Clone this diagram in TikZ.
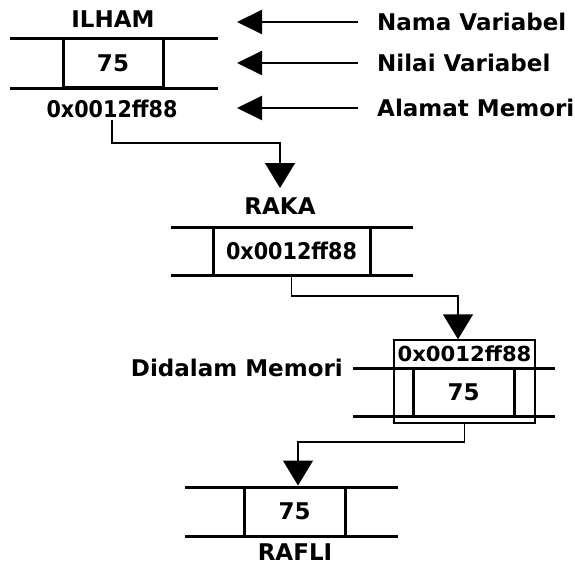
\documentclass[tikz,border=0pt]{standalone}
\usepackage{fontspec}
\setmainfont{DejaVu Sans}
\usetikzlibrary{arrows.meta}
\newcommand{\hexnum}{\scalebox{0.9}[1]{0x0012ff88}}
\begin{document}
\begin{tikzpicture}[x=1pt,y=1pt,
  lbl/.style={font=\fontsize{23}{27}\selectfont\bfseries, inner sep=0pt},
  valbox/.style={draw, line width=3pt, minimum height=49pt, inner sep=0pt, font=\fontsize{23}{27}\selectfont\bfseries},
  rail/.style={line width=3pt},
  conn/.style={line width=1.4pt, -{Triangle[length=25pt,width=30pt]}},
  larrow/.style={line width=2pt, -{Triangle[length=25pt,width=24pt]}},
  memrect/.style={draw, line width=1.4pt, minimum width=141pt, minimum height=83pt, inner sep=0pt}
]
\useasboundingbox[fill=white] (0,0) rectangle (575,-565);

% ILHAM
\node[lbl] (ilhamname) at (113,-19) {ILHAM};
\draw[rail] (10,-38) -- (218,-38);
\draw[rail] (10,-88) -- (218,-88);
\node[valbox, minimum width=100pt] (ilhamval) at (113,-63) {75};
\node[lbl] (ilhamaddr) at (112,-109) {\hexnum};

% legend
\node[lbl, anchor=west] (lname) at (377,-22) {Nama Variabel};
\node[lbl, anchor=west] (lval) at (377,-63) {Nilai Variabel};
\node[lbl, anchor=west] (laddr) at (377,-108) {Alamat Memori};
\coordinate (a1) at (237,-22);
\coordinate (a2) at (237,-63);
\coordinate (a3) at (237,-108);
\draw[larrow, shorten <=19pt] (lname.west) -- (a1);
\draw[larrow, shorten <=19pt] (lval.west) -- (a2);
\draw[larrow, shorten <=19pt] (laddr.west) -- (a3);

% RAKA
\node[lbl] (rakaname) at (280,-206) {RAKA};
\draw[rail] (171,-227) -- (413,-227);
\draw[rail] (171,-275) -- (413,-275);
\node[valbox, minimum width=157pt, minimum height=48pt] (rakaval) at (291.5,-251) {\hexnum};
\coordinate (t1) at (280,-188);
\draw[conn, shorten <=2pt] (ilhamaddr.south) |- (280,-143) -- (t1);

% Memory
\node[memrect] (mem) at (464.5,-381.5) {};
\node[lbl] (memaddr) at (464.5,-354) {\scalebox{0.92}[0.9]{0x0012ff88}};
\draw[rail] (353,-368) -- (555,-368);
\draw[rail] (353,-416) -- (555,-416);
\node[valbox, minimum width=101pt, minimum height=48pt] (memval) at (463.5,-392) {75};
\node[lbl, anchor=east] (didalam) at (343,-368) {Didalam Memori};
\draw[conn] (rakaval.south) |- (458,-296) -- (mem.north -| 458,0);

% RAFLI
\draw[rail] (185,-487) -- (398,-487);
\draw[rail] (185,-536) -- (398,-536);
\node[valbox, minimum width=101pt] (rafval) at (294.5,-511.5) {75};
\node[lbl] (rafname) at (295,-552) {RAFLI};
\draw[conn] (mem.south) |- (298,-442) -- (rafval.north -| 298,0);
\end{tikzpicture}
\end{document}
